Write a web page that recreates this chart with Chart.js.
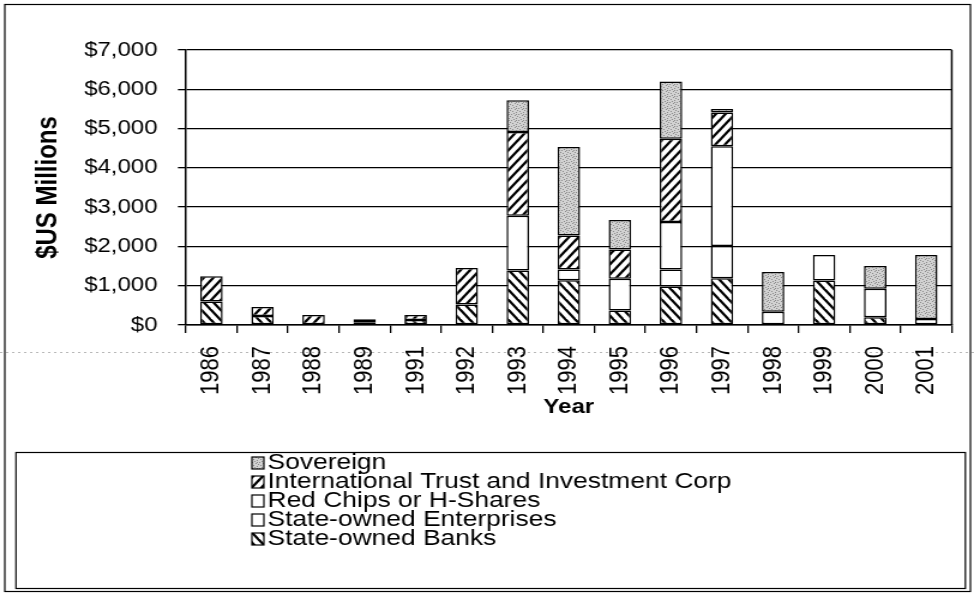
<!DOCTYPE html>
<html>
<head>
<meta charset="utf-8">
<script src="https://cdn.jsdelivr.net/npm/chart.js@4.4.1/dist/chart.umd.min.js"></script>
<style>
body{margin:0;background:#fff}
canvas{display:block}
</style>
</head>
<body>
<canvas id="chart" width="812" height="594" style="width:974px;height:594px"></canvas>
<script>
// years on the x axis (no 1990 in the source)
const years = ['1986','1987','1988','1989','1991','1992','1993','1994','1995','1996','1997','1998','1999','2000','2001'];

// $US millions, stacked bottom to top
const banks     = [600, 230,   0,  70, 130,  520, 1390, 1140,  370,  980, 1190,    0, 1130, 200,    0];
const soe       = [  0,   0,   0,   0,   0,    0,    0,  270,    0,  430,  820,  340,  650, 720,  150];
const redChips  = [  0,   0,   0,   0,   0,    0, 1390,    0,  810, 1210, 2540,    0,    0,   0,    0];
const itic      = [640, 230, 255,  75, 125,  930, 2130,  870,  740, 2120,  860,    0,    0,   0,    0];
const sovereign = [  0,   0,   0,   0,   0,    0,  810, 2250,  750, 1460,   90, 1010,    0, 580, 1630];

const yTicks = [0, 1000, 2000, 3000, 4000, 5000, 6000, 7000];

const FONT = '"Liberation Sans", Arial, sans-serif';
const ctx = document.getElementById('chart').getContext('2d');

// diagonal hatch, back = "\" , otherwise "/"
function hatch(back) {
	const w = 8, h = 10;
	const c = document.createElement('canvas');
	c.width = w; c.height = h;
	const g = c.getContext('2d');
	g.fillStyle = '#fff';
	g.fillRect(0, 0, w, h);
	g.strokeStyle = '#000';
	g.lineWidth = 2.3;
	for (let k = -1; k <= 2; k++) {
		g.beginPath();
		if (back) { g.moveTo(-w, -h + k*h); g.lineTo(2*w, 2*h + k*h); }
		else { g.moveTo(-w, (k+1)*h); g.lineTo(2*w, (k-2)*h); }
		g.stroke();
	}
	return ctx.createPattern(c, 'repeat');
}

// grey speckle for sovereign
function speckle() {
	const c = document.createElement('canvas');
	c.width = 6; c.height = 6;
	const g = c.getContext('2d');
	g.fillStyle = '#d2d2d2';
	g.fillRect(0, 0, 6, 6);
	g.fillStyle = '#8a8a8a';
	[[0,0],[3,1],[1,3],[4,4],[5,2],[2,5],[4,0]].forEach(p => g.fillRect(p[0], p[1], 1, 1));
	return ctx.createPattern(c, 'repeat');
}

const frame = {
	id: 'frame',
	beforeDraw(chart) {
		const c = chart.ctx;
		c.save();
		c.strokeStyle = '#b8b8b8';
		c.lineWidth = 1;
		c.setLineDash([2, 3]);
		c.beginPath();
		c.moveTo(0, 352.5);
		c.lineTo(chart.width, 352.5);
		c.stroke();
		c.restore();
	},
	afterDraw(chart) {
		const c = chart.ctx, a = chart.chartArea;
		c.save();
		c.strokeStyle = '#000';
		c.lineWidth = 1.5;
		c.beginPath();
		c.moveTo(a.right, a.top);
		c.lineTo(a.right, a.bottom);
		c.stroke();

		c.lineWidth = 1.2;
		c.strokeRect(4, 4.5, 805, 587);
		c.strokeRect(13.3, 452.5, 791.5, 136);

		c.font = '22px ' + FONT;
		c.textBaseline = 'middle';
		chart.data.datasets.slice().reverse().forEach((d, i) => {
			const y = 462 + i * 19;
			c.fillStyle = d.backgroundColor;
			c.fillRect(210, y - 5, 10, 12);
			c.lineWidth = 1.2;
			c.strokeRect(210, y - 5, 10, 12);
			c.fillStyle = '#000';
			c.fillText(d.label, 223, y + 1);
		});
		c.restore();
	}
};

const datasets = [
	{label: 'State-owned Banks', data: banks, backgroundColor: hatch(true)},
	{label: 'State-owned Enterprises', data: soe, backgroundColor: '#fff'},
	{label: 'Red Chips or H-Shares', data: redChips, backgroundColor: '#fff'},
	{label: 'International Trust and Investment Corp', data: itic, backgroundColor: hatch(false)},
	{label: 'Sovereign', data: sovereign, backgroundColor: speckle()}
].map(d => Object.assign(d, {
	borderColor: '#000',
	borderWidth: 1.5,
	borderSkipped: false,
	barPercentage: 0.44,
	categoryPercentage: 1
}));

const chart = new Chart(ctx, {
	type: 'bar',
	data: {labels: years, datasets: datasets},
	options: {
		responsive: false,
		animation: false,
		devicePixelRatio: 1,
		layout: {padding: {left: 4, right: 12.8, top: 50, bottom: 159}},
		plugins: {legend: {display: false}, tooltip: {enabled: false}},
		scales: {
			x: {
				stacked: true,
				grid: {drawOnChartArea: false, tickLength: 8, color: '#000', lineWidth: 1.3},
				border: {color: '#000', width: 1.5},
				ticks: {color: '#000', font: {family: FONT, size: 22}, minRotation: 90, maxRotation: 90, autoSkip: false, padding: 13},
				title: {display: true, text: 'Year', color: '#000', font: {family: FONT, size: 20, weight: 'bold'}, padding: {top: 0, bottom: 16}},
				afterFit: s => { s.height = 110; }
			},
			y: {
				stacked: true,
				min: yTicks[0],
				max: yTicks[yTicks.length - 1],
				afterBuildTicks: s => { s.ticks = yTicks.map(v => ({value: v})); },
				ticks: {color: '#000', font: {family: FONT, size: 20}, padding: 17, callback: v => '$' + v.toLocaleString('en-US')},
				grid: {color: '#000', lineWidth: 1.3, tickLength: 6.7},
				border: {color: '#000', width: 1.5},
				title: {display: true, text: '$US Millions', color: '#000', font: {family: FONT, size: 24, weight: 'bold'}, padding: {top: 21.6, bottom: 0}},
				afterFit: s => { s.width = 151; }
			}
		}
	},
	plugins: [frame]
});
</script>
</body>
</html>
